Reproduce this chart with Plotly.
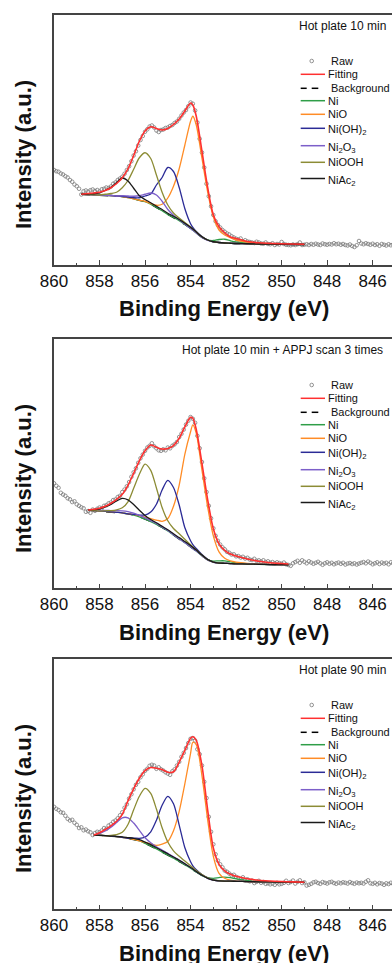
import numpy as np
import plotly.graph_objects as go

W, H = 392, 963
FONT = "Liberation Sans, Arial, sans-serif"

# ---------------- data ----------------
# raw spectra: binding energy 860.0 -> 845.0 eV, 0.1 eV step
E_RAW = np.round(np.arange(860.0, 844.95, -0.1), 1)

RAW1 = [38.0, 37.5, 37.3, 36.6, 36.2, 35.5, 35.0, 34.0, 33.3, 32.2,
        31.5, 30.5, 28.2, 29.5, 29.8, 29.3, 29.9, 30.2, 29.6, 30.0,
        29.4, 30.3, 30.5, 31.0, 30.8, 31.4, 32.5, 33.0, 34.0, 34.6,
        35.3, 36.5, 38.0, 39.5, 41.5, 43.8, 45.5, 47.8, 50.0, 51.6,
        53.3, 54.3, 55.4, 55.8, 55.0, 53.8, 53.2, 54.0, 54.2, 54.8,
        55.0, 55.6, 56.0, 56.8, 57.4, 58.5, 59.8, 61.0, 62.0, 63.5,
        65.0, 64.5, 61.8, 57.0, 50.5, 45.0, 39.0, 32.5, 27.5, 23.5,
        20.0, 17.5, 16.0, 15.0, 14.0, 13.3, 12.6, 12.2, 11.5, 11.0,
        10.5, 10.2, 10.6, 9.5, 9.9, 9.4, 9.2, 9.0, 8.8, 9.3,
        9.0, 8.6, 8.5, 9.0, 8.4, 8.3, 8.7, 8.0, 8.4, 8.2,
        9.2, 8.4, 8.1, 8.0, 7.9, 8.2, 8.0, 8.3, 9.0, 8.0,
        8.1, 8.3, 8.0, 8.4, 8.1, 8.5, 8.2, 8.0, 8.6, 8.3,
        8.1, 8.4, 8.2, 8.7, 8.3, 8.5, 8.1, 8.4, 8.0, 7.8,
        8.2, 7.6, 7.2, 7.9, 9.6, 8.6, 8.3, 8.7, 8.4, 8.1,
        8.5, 8.0, 8.3, 7.7, 8.4, 8.1, 7.8, 8.3, 7.9, 8.2,
        8.0]

RAW2 = [42.0, 41.0, 40.2, 38.2, 37.5, 37.0, 36.0, 35.6, 34.5, 34.8,
        33.6, 33.0, 32.4, 32.0, 30.6, 30.9, 30.2, 31.5, 31.0, 31.8,
        32.3, 32.0, 33.0, 33.2, 34.0, 34.3, 35.3, 35.5, 36.5, 37.0,
        38.5, 39.5, 40.8, 42.5, 44.6, 46.4, 48.0, 50.2, 52.0, 53.5,
        55.0, 56.3, 57.0, 58.0, 56.8, 56.0, 55.2, 55.0, 55.6, 55.2,
        56.3, 56.0, 57.0, 57.6, 58.5, 60.5, 61.8, 63.5, 65.5, 67.0,
        68.5, 67.8, 66.2, 61.0, 56.0, 50.5, 44.0, 38.5, 33.0, 28.0,
        24.0, 21.0, 19.0, 17.5, 16.4, 15.6, 14.6, 14.2, 13.5, 13.6,
        12.8, 12.9, 12.3, 12.6, 11.9, 12.2, 11.5, 11.3, 11.8, 11.0,
        11.2, 10.7, 11.2, 10.5, 10.8, 10.2, 10.5, 10.0, 10.4, 10.1,
        9.8, 10.3, 9.6, 9.3, 9.0, 10.0, 10.5, 11.0, 10.2, 11.2,
        10.6, 10.0, 10.8, 10.3, 9.8, 10.2, 10.6, 10.0, 9.4, 10.0,
        10.4, 9.8, 10.2, 9.6, 10.0, 10.3, 9.8, 10.2, 9.5, 9.9,
        10.1, 9.7, 10.0, 9.5, 9.9, 10.2, 10.5, 10.0, 10.7, 10.2,
        9.6, 10.0, 10.4, 9.7, 10.3, 9.9, 10.2, 9.6, 10.4, 10.0,
        10.2]

RAW3 = [41.0, 40.2, 39.7, 38.8, 38.6, 37.4, 36.2, 35.5, 35.8, 34.6,
        33.8, 32.5, 32.8, 31.6, 31.9, 31.2, 30.8, 29.7, 30.5, 31.0,
        30.8, 31.5, 32.5, 32.2, 33.5, 34.0, 35.0, 35.5, 36.4, 37.6,
        38.8, 40.6, 42.0, 44.3, 46.0, 48.0, 49.8, 51.0, 52.8, 54.0,
        55.4, 56.2, 57.4, 57.8, 57.5, 56.2, 56.8, 56.0, 55.5, 54.8,
        54.3, 53.8, 55.2, 56.0, 57.5, 59.0, 61.0, 62.6, 64.5, 66.5,
        68.2, 68.5, 67.5, 64.0, 62.0, 57.5, 51.0, 44.5, 37.0, 31.0,
        26.0, 22.0, 19.5, 18.0, 16.8, 15.5, 15.0, 14.3, 13.6, 13.8,
        13.0, 12.6, 12.0, 12.8, 11.6, 12.0, 11.2, 11.5, 10.5, 11.0,
        11.4, 10.6, 10.9, 10.2, 10.4, 10.0, 10.3, 9.8, 10.6, 10.0,
        10.2, 10.6, 11.4, 10.5, 10.9, 11.5, 10.3, 11.0, 11.6, 10.5,
        10.8, 9.5, 9.8, 10.2, 10.8, 11.0, 10.5, 10.2, 10.9, 10.6,
        10.3, 10.8, 11.0, 10.5, 10.2, 10.7, 10.4, 10.8, 10.6, 10.3,
        10.9, 10.5, 10.2, 10.7, 10.4, 10.6, 10.3, 11.0, 11.6, 10.4,
        10.2, 10.6, 10.0, 10.5, 10.3, 9.8, 10.4, 10.1, 10.6, 10.2,
        10.5]

# fitted curves (energy grids, background, envelope, component heights above background)
G1 = [858.8, 858.5, 858.25, 858.0, 857.75, 857.5, 857.25, 857.0, 856.75, 856.5, 856.25,
      856.0, 855.75, 855.5, 855.25, 855.0, 854.75, 854.5, 854.25, 854.0, 853.9, 853.75,
      853.5, 853.25, 853.0, 852.75, 852.5, 852.25, 852.0, 851.5, 851.0, 850.0, 849.0]
BG1 = [28.3, 28.2, 28.1, 28.0, 27.9, 27.8, 27.6, 27.4, 27.0, 26.5, 25.9,
       25.3, 24.3, 23.0, 21.7, 20.2, 19.0, 17.7, 16.2, 14.6, 13.9, 12.8,
       11.0, 9.8, 9.2, 9.0, 8.8, 8.7, 8.6, 8.5, 8.4, 8.3, 8.2]
FIT1 = [28.3, 28.6, 28.8, 29.1, 29.8, 30.9, 32.6, 34.9, 38.5, 43.8, 49.5,
        53.6, 55.3, 54.6, 54.0, 54.6, 56.2, 58.4, 61.6, 64.8, 64.0, 59.5,
        45.5, 31.0, 20.0, 15.3, 12.9, 11.2, 10.6, 9.4, 8.9, 8.5, 8.3]
NI_1 = [0, 0, 0, 0, 0, 0, 0, 0, 0, 0, 0, 0, 0, 0, 0, 0, 0, 0, 0, 0, 0, 0,
        0.1, 0.2, 0.6, 1.2, 1.5, 1.0, 0.6, 0.2, 0, 0, 0]
NIO_1 = [0, 0, 0, 0, 0, 0, 0, 0, 0, 0, 0, 0.2, 0.3, 0.9, 2.6, 6.6, 12.5, 20.8, 31.8, 42.9,
         45.6, 43.2, 31.7, 19.5, 10.1, 5.0, 3.2, 2.2, 1.4, 0.7, 0.3, 0.1, 0]
NIOH_1 = [0, 0, 0, 0, 0, 0, 0, 0.1, 0.2, 0.4, 1.0, 2.3, 4.1, 9.0, 13.3, 18.8, 18.4, 13.3,
          6.3, 1.9, 1.1, 0.6, 0.4, 0.2, 0.1, 0, 0, 0, 0, 0, 0, 0, 0]
NI2O3_1 = [0, 0, 0, 0, 0, 0, 0, 0.3, 0.6, 1.0, 1.8, 3.0, 4.5, 5.0, 3.8, 2.0, 0.9, 0.4,
           0.2, 0, 0, 0, 0, 0, 0, 0, 0, 0, 0, 0, 0, 0, 0]
NIOOH_1 = [0, 0, 0, 0, 0.4, 0.8, 1.5, 3.5, 6.8, 11.8, 17.0, 19.6, 18.3, 13.0, 7.4, 3.8,
           1.8, 1.1, 0.8, 0.6, 0.5, 0.4, 0.3, 0.2, 0.1, 0, 0, 0, 0, 0, 0, 0, 0]
NIAC_1 = [0, 0.2, 0.4, 0.9, 1.9, 3.3, 5.4, 7.4, 6.6, 4.2, 1.8, 0.9, 0.6, 0.5, 0.5, 0.5,
          0.5, 0.5, 0.5, 0.5, 0.5, 0.4, 0.3, 0.2, 0.1, 0, 0, 0, 0, 0, 0, 0, 0]

G2 = [858.5, 858.25, 858.0, 857.75, 857.5, 857.25, 857.0, 856.75, 856.5, 856.25, 856.0,
      855.75, 855.5, 855.25, 855.0, 854.75, 854.5, 854.25, 854.0, 853.9, 853.75, 853.5,
      853.25, 853.0, 852.75, 852.5, 852.25, 852.0, 851.5, 851.0, 850.5, 850.0, 849.7]
BG2 = [31.3, 31.1, 30.9, 30.8, 30.6, 30.4, 30.2, 29.8, 29.3, 28.6, 27.7,
       26.7, 25.6, 24.3, 22.9, 21.3, 19.8, 18.2, 16.6, 15.9, 14.9, 13.0,
       11.3, 10.4, 10.1, 10.0, 9.9, 9.8, 9.7, 9.6, 9.5, 9.45, 9.4]
FIT2 = [31.3, 31.6, 32.0, 32.8, 34.0, 35.6, 37.6, 41.2, 46.0, 51.0, 55.0,
        57.3, 56.4, 55.7, 55.9, 57.1, 60.0, 64.6, 68.4, 68.0, 63.5, 50.0,
        35.5, 23.8, 17.8, 15.2, 13.7, 12.9, 11.7, 10.8, 10.2, 9.9, 9.7]
NI_2 = [0, 0, 0, 0, 0, 0, 0, 0, 0, 0, 0, 0, 0, 0, 0, 0, 0, 0, 0, 0, 0, 0,
        0.2, 0.5, 0.9, 1.0, 0.7, 0.4, 0.15, 0, 0, 0, 0]
NIO_2 = [0, 0, 0, 0, 0, 0, 0, 0, 0.3, 0.5, 0.8, 1.2, 1.7, 2.5, 5.0, 11.5, 21.5, 35.5, 46.0,
         49.5, 47.1, 34.3, 21.3, 10.6, 4.5, 2.0, 1.1, 0.7, 0.3, 0.15, 0.05, 0, 0]
NIOH_2 = [0, 0, 0, 0, 0, 0, 0, 0, 0.3, 0.7, 1.6, 3.8, 8.0, 15.0, 20.3, 19.0, 13.5, 6.0,
          2.4, 1.6, 1.0, 0.5, 0.3, 0.1, 0, 0, 0, 0, 0, 0, 0, 0, 0]
NI2O3_2 = [0, 0, 0.2, 0.35, 0.5, 0.7, 0.8, 0.9, 0.8, 0.6, 0.5, 0.4, 0.3, 0.25, 0.2, 0.1,
           0, 0, 0, 0, 0, 0, 0, 0, 0, 0, 0, 0, 0, 0, 0, 0, 0]
NIOOH_2 = [0, 0, 0, 0.2, 0.5, 1.0, 2.0, 4.8, 10.7, 17.0, 22.0, 20.5, 14.5, 8.0, 4.1, 2.6,
           2.0, 1.4, 0.8, 0.7, 0.5, 0.3, 0.2, 0.1, 0, 0, 0, 0, 0, 0, 0, 0, 0]
NIAC_2 = [0.1, 0.4, 0.8, 1.8, 3.0, 4.5, 5.8, 5.6, 4.2, 2.6, 1.4, 0.8, 0.6, 0.5, 0.5, 0.5,
          0.5, 0.5, 0.5, 0.5, 0.4, 0.3, 0.2, 0.1, 0, 0, 0, 0, 0, 0, 0, 0, 0]

G3 = [858.25, 858.0, 857.75, 857.5, 857.25, 857.0, 856.75, 856.5, 856.25, 856.0, 855.75,
      855.5, 855.25, 855.0, 854.75, 854.5, 854.25, 854.0, 853.9, 853.75, 853.5, 853.25,
      853.0, 852.75, 852.5, 852.25, 852.0, 851.5, 851.0, 850.5, 850.0, 849.5, 849.0]
BG3 = [29.7, 29.6, 29.5, 29.3, 29.1, 28.8, 28.4, 28.0, 27.4, 26.4, 25.4,
       24.1, 22.9, 21.7, 20.4, 19.2, 17.8, 16.4, 15.8, 14.9, 13.5, 12.4,
       11.7, 11.4, 11.3, 11.25, 11.2, 11.1, 11.0, 10.95, 10.9, 10.85, 10.8]
FIT3 = [29.7, 30.6, 31.9, 33.4, 35.2, 38.0, 43.4, 48.2, 52.4, 55.5, 56.7,
        56.4, 55.9, 54.8, 55.0, 58.9, 63.6, 68.4, 69.0, 67.6, 57.5, 39.8,
        24.5, 18.0, 15.4, 14.0, 13.2, 12.2, 11.6, 11.3, 11.1, 10.95, 10.8]
NI_3 = [0, 0, 0, 0, 0, 0, 0, 0, 0, 0, 0, 0, 0, 0, 0, 0, 0, 0, 0, 0, 0,
        0.3, 0.7, 1.3, 1.6, 1.4, 1.0, 0.4, 0.1, 0, 0, 0, 0]
NIO_3 = [0, 0, 0, 0, 0, 0, 0, 0, 0, 0.4, 0.8, 1.5, 3.2, 5.4, 11.0, 20.0, 32.5, 46.0, 51.0,
         51.0, 40.0, 23.5, 9.5, 3.0, 1.1, 0.4, 0.2, 0, 0, 0, 0, 0, 0]
NIOH_3 = [0, 0, 0, 0, 0, 0, 0, 0.5, 1.0, 2.5, 5.6, 11.5, 18.7, 23.5, 21.8, 14.5, 6.8, 2.6,
          1.6, 0.9, 0.4, 0.2, 0.1, 0, 0, 0, 0, 0, 0, 0, 0, 0, 0]
NI2O3_3 = [0, 0.7, 1.8, 3.5, 5.6, 7.8, 8.2, 6.5, 4.2, 2.2, 1.2, 0.9, 0.8, 0.7, 0.6, 0.5,
           0.4, 0.3, 0.3, 0.2, 0.1, 0, 0, 0, 0, 0, 0, 0, 0, 0, 0, 0, 0]
NIOOH_3 = [0, 0, 0, 0.3, 0.8, 2.0, 5.5, 11.8, 17.8, 22.0, 21.0, 16.0, 9.7, 5.2, 3.0, 2.0,
           1.5, 1.0, 0.8, 0.6, 0.4, 0.2, 0.1, 0, 0, 0, 0, 0, 0, 0, 0, 0, 0]
NIAC_3 = [0, 0, 0, 0, 0.1, 0.2, 0.3, 0.4, 0.5, 0.5, 0.5, 0.5, 0.5, 0.5, 0.5, 0.4,
          0.4, 0.3, 0.3, 0.2, 0.1, 0, 0, 0, 0, 0, 0, 0, 0, 0, 0, 0, 0]

TITLES = ["Hot plate 10 min", "Hot plate 10 min + APPJ scan 3 times", "Hot plate 90 min"]
COMP_NAMES = ["Ni", "NiO", "Ni(OH)<sub>2</sub>", "Ni<sub>2</sub>O<sub>3</sub>", "NiOOH", "NiAc<sub>2</sub>"]
COMP_COLORS = ["#2f9e48", "#ff8c26", "#2b2b96", "#7c5fc9", "#8c8c35", "#1a1a1a"]
RED = "#ff3030"
RAWC = "#7a7a7a"
AX = "#444444"

PANELS = [
    dict(raw=RAW1, g=G1, bg=BG1, fit=FIT1, comps=[NI_1, NIO_1, NIOH_1, NI2O3_1, NIOOH_1, NIAC_1]),
    dict(raw=RAW2, g=G2, bg=BG2, fit=FIT2, comps=[NI_2, NIO_2, NIOH_2, NI2O3_2, NIOOH_2, NIAC_2]),
    dict(raw=RAW3, g=G3, bg=BG3, fit=FIT3, comps=[NI_3, NIO_3, NIOH_3, NI2O3_3, NIOOH_3, NIAC_3]),
]

# ---------------- layout geometry (pixels) ----------------
TOPS = [15, 339, 659]
BOTS = [265, 588.3, 909.3]
LEFT = 54
XR = [860, 845.15]

def px(x):
    return x / W

def py(y):
    return 1 - y / H

fig = go.Figure()
shapes, annotations = [], []
layout = dict(width=W, height=H, margin=dict(l=0, r=0, t=0, b=0),
              paper_bgcolor="white", plot_bgcolor="white", showlegend=False,
              font=dict(family=FONT, color="#111111"))

for i, p in enumerate(PANELS):
    n = "" if i == 0 else str(i + 1)
    xa, ya = "x" + n, "y" + n
    T, B = TOPS[i], BOTS[i]
    g = np.array(p["g"])
    bg = np.array(p["bg"])

    fig.add_trace(go.Scatter(x=E_RAW, y=p["raw"], mode="markers", xaxis=xa, yaxis=ya,
                             marker=dict(symbol="circle-open", size=3.6, color=RAWC,
                                         line=dict(width=0.8, color=RAWC))))
    fig.add_trace(go.Scatter(x=g, y=bg, mode="lines", xaxis=xa, yaxis=ya,
                             line=dict(color="black", width=1.3, dash="dash")))
    for h, c in zip(p["comps"], COMP_COLORS):
        fig.add_trace(go.Scatter(x=g, y=bg + np.array(h), mode="lines", xaxis=xa, yaxis=ya,
                                 line=dict(color=c, width=1.3, shape="spline", smoothing=0.8)))
    fig.add_trace(go.Scatter(x=g, y=p["fit"], mode="lines", xaxis=xa, yaxis=ya,
                             line=dict(color=RED, width=1.6, shape="spline", smoothing=0.8)))

    ydom = [py(B), py(T)]
    layout["xaxis" + n] = dict(domain=[LEFT / W, 1], range=XR, anchor=ya, showline=True,
                               linecolor=AX, linewidth=1.5, mirror=True, ticks="inside",
                               ticklen=5, tickwidth=1, tickcolor=AX, tick0=860, dtick=2,
                               tickfont=dict(size=17, family=FONT, color="#111111"),
                               showgrid=False, zeroline=False, automargin=False,
                               minor=dict(ticks="inside", ticklen=2.5, tickwidth=1,
                                          tickcolor=AX, tick0=860, dtick=1, showgrid=False))
    layout["yaxis" + n] = dict(domain=ydom, range=[0, (B - T) / 2.5], anchor=xa,
                               showline=True, linecolor=AX, linewidth=1.5, mirror=False,
                               ticks="", showticklabels=False, showgrid=False,
                               zeroline=False, automargin=False)

    # panel title
    annotations.append(dict(x=px(388 if i != 1 else 385), y=py(T + 11), xref="paper",
                            yref="paper", xanchor="right", yanchor="middle", showarrow=False,
                            text=TITLES[i], font=dict(size=12, family=FONT, color="#111111")))
    # axis titles
    annotations.append(dict(x=px(23), y=py(T + 140), xref="paper", yref="paper",
                            xanchor="center", yanchor="middle", showarrow=False, textangle=-90,
                            text="<b>Intensity (a.u.)</b>",
                            font=dict(size=22, family=FONT, color="#111111")))
    annotations.append(dict(x=px(224), y=py(B + 44), xref="paper", yref="paper",
                            xanchor="center", yanchor="middle", showarrow=False,
                            text="<b>Binding Energy (eV)</b>",
                            font=dict(size=22, family=FONT, color="#111111")))

    # legend (manual)
    lf = dict(size=11, family=FONT, color="#111111")
    yr = T + 46
    shapes.append(dict(type="circle", xref="paper", yref="paper", xsizemode="pixel",
                       ysizemode="pixel", xanchor=px(311.7), yanchor=py(yr),
                       x0=-1.8, x1=1.8, y0=-1.8, y1=1.8, line=dict(color=RAWC, width=0.8)))
    annotations.append(dict(x=px(329), y=py(yr), xref="paper", yref="paper", xanchor="left",
                            yanchor="middle", showarrow=False, text="Raw", font=lf))
    yf = T + 59.3
    shapes.append(dict(type="line", xref="paper", yref="paper", x0=px(300.7), x1=px(325),
                       y0=py(yf), y1=py(yf), line=dict(color=RED, width=1.5)))
    annotations.append(dict(x=px(325.5), y=py(yf), xref="paper", yref="paper", xanchor="left",
                            yanchor="middle", showarrow=False, text="Fitting", font=lf))
    yb = T + 73.3
    for a, b in [(300.7, 306.7), (311.7, 318.3)]:
        shapes.append(dict(type="line", xref="paper", yref="paper", x0=px(a), x1=px(b),
                           y0=py(yb), y1=py(yb), line=dict(color="black", width=1.5)))
    annotations.append(dict(x=px(329), y=py(yb), xref="paper", yref="paper", xanchor="left",
                            yanchor="middle", showarrow=False, text="Background", font=lf))
    rows = [85.7, 99.3, 113.3, 130.7, 147.3, 163.5]
    for name, c, r in zip(COMP_NAMES, COMP_COLORS, rows):
        yy = T + r
        shapes.append(dict(type="line", xref="paper", yref="paper", x0=px(300.7), x1=px(325),
                           y0=py(yy), y1=py(yy), line=dict(color=c, width=1.5)))
        off = 2 if "<sub>" in name else 0
        annotations.append(dict(x=px(325.5), y=py(yy + off), xref="paper", yref="paper",
                                xanchor="left", yanchor="middle", showarrow=False,
                                text=name, font=lf))

layout["shapes"] = shapes
layout["annotations"] = annotations
fig.update_layout(**layout)
fig.write_html("out.html")
